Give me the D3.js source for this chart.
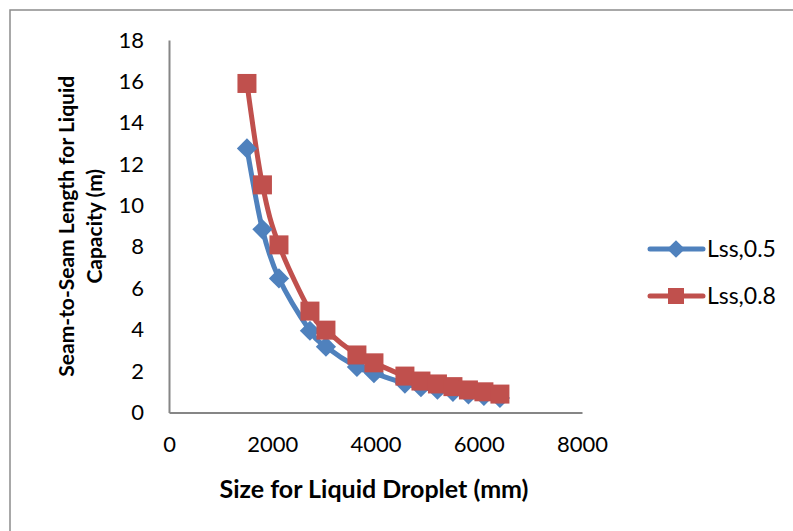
<!DOCTYPE html>
<html><head><meta charset="utf-8">
<script src="https://cdn.jsdelivr.net/npm/d3@7"></script>
<style>body{margin:0;background:#fff}svg{display:block}</style>
</head><body>
<svg id="c" width="793" height="531"></svg>
<script>
const xValues = [1510, 1810, 2130, 2730, 3040, 3640, 3970, 4570, 4880, 5200, 5500, 5800, 6100, 6410];
const lss05 = [12.76, 8.85, 6.48, 3.95, 3.18, 2.2, 1.9, 1.4, 1.22, 1.1, 1.0, 0.87, 0.8, 0.7];
const lss08 = [15.9, 11.0, 8.1, 4.9, 3.98, 2.78, 2.4, 1.76, 1.52, 1.38, 1.25, 1.09, 1.0, 0.89];
const seriesNames = ["Lss,0.5", "Lss,0.8"];
const xTicks = [0, 2000, 4000, 6000, 8000];
const yTicks = [0, 2, 4, 6, 8, 10, 12, 14, 16, 18];
const xTitle = "Size for Liquid Droplet (mm)";
const yTitleLines = ["Seam-to-Seam Length for Liquid", "Capacity (m)"];

const colors = ["#4F81BD", "#C0504D"];
const font = "Lato, 'Open Sans', sans-serif";
const svg = d3.select("#c");

// outer frame
svg.append("rect").attr("x", 10).attr("y", 10).attr("width", 800).attr("height", 540)
  .attr("fill", "none").attr("stroke", "#8c8c8c").attr("stroke-width", 1.5);

const x = d3.scaleLinear().domain([0, 8000]).range([169, 582]);
const y = d3.scaleLinear().domain([0, 18]).range([412.5, 40]);

const xAxis = d3.axisBottom(x).tickValues(xTicks).tickFormat(d3.format("d")).tickSize(0).tickPadding(24);
const gx = svg.append("g").attr("transform", `translate(0,${y(0)})`).call(xAxis);
gx.select(".domain").attr("stroke", "#868686").attr("stroke-width", 2);
gx.selectAll("text").attr("font-family", font).attr("font-size", 22).attr("fill", "#000");

const yAxis = d3.axisLeft(y).tickValues(yTicks).tickFormat(d3.format("d")).tickSize(0).tickPadding(25);
const gy = svg.append("g").attr("transform", `translate(${x(0)},0)`).call(yAxis);
gy.select(".domain").attr("stroke", "#868686").attr("stroke-width", 2);
gy.selectAll("text").attr("font-family", font).attr("font-size", 22).attr("fill", "#000");

// titles
svg.append("text").attr("x", 374).attr("y", 498).attr("text-anchor", "middle")
  .attr("font-family", font).attr("font-weight", "bold").attr("font-size", 25).text(xTitle);
const yt = svg.append("text").attr("transform", `translate(0,${(y(0) + y(18)) / 2}) rotate(-90)`)
  .attr("text-anchor", "middle").attr("font-family", font).attr("font-weight", "bold").attr("font-size", 21);
yTitleLines.forEach((t, i) => yt.append("tspan").attr("x", 0).attr("y", 74 + i * 28).text(t));

const line = d3.line().x(d => x(d[0])).y(d => y(d[1])).curve(d3.curveCardinal.tension(0));
const allSeries = [lss05, lss08];

allSeries.forEach((vals, i) => {
  const pts = xValues.map((xv, j) => [xv, vals[j]]);
  svg.append("path").attr("d", line(pts)).attr("fill", "none")
    .attr("stroke", colors[i]).attr("stroke-width", 5).attr("stroke-linejoin", "round").attr("stroke-linecap", "round");
});
allSeries.forEach((vals, i) => {
  const pts = xValues.map((xv, j) => [xv, vals[j]]);
  const g = svg.append("g");
  pts.forEach(p => {
    if (i === 0) {
      g.append("path").attr("d", d3.symbol(d3.symbolDiamond2, 260)())
        .attr("transform", `translate(${x(p[0])},${y(p[1])})`).attr("fill", colors[i]);
    } else {
      g.append("rect").attr("x", x(p[0]) - 9.5).attr("y", y(p[1]) - 9.5).attr("width", 19).attr("height", 19)
        .attr("fill", colors[i]);
    }
  });
});

// legend
const legY = [249, 296];
seriesNames.forEach((name, i) => {
  const g = svg.append("g");
  g.append("line").attr("x1", 650).attr("x2", 703).attr("y1", legY[i]).attr("y2", legY[i])
    .attr("stroke", colors[i]).attr("stroke-width", 5).attr("stroke-linecap", "round");
  if (i === 0) {
    g.append("path").attr("d", d3.symbol(d3.symbolDiamond2, 200)()).attr("transform", `translate(676,${legY[i]})`).attr("fill", colors[i]);
  } else {
    g.append("rect").attr("x", 668).attr("y", legY[i] - 8).attr("width", 16).attr("height", 16).attr("fill", colors[i]);
  }
  g.append("text").attr("x", 707).attr("y", legY[i]).attr("dy", "0.35em")
    .attr("font-family", font).attr("font-size", 23).text(name);
});
</script>
</body></html>
